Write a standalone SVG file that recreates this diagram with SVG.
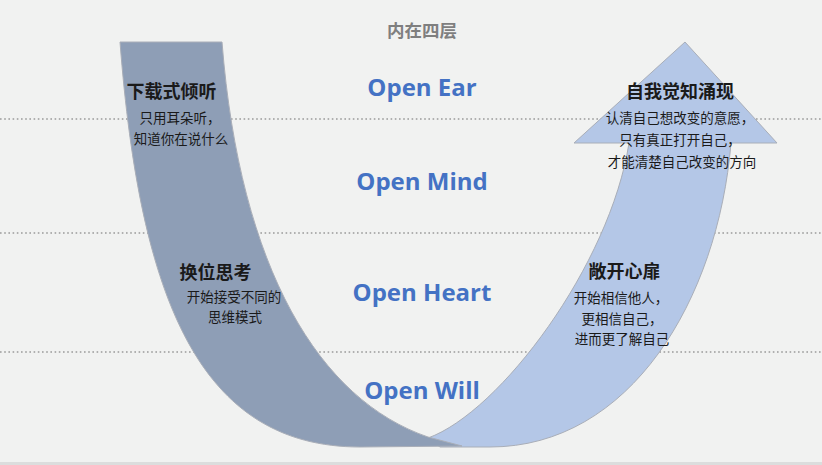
<svg xmlns="http://www.w3.org/2000/svg" width="822" height="465" viewBox="0 0 822 465">
<style>
.bg{fill:#f1f2f1}
.dot{stroke:#9a9a9a;stroke-width:1.6;stroke-dasharray:1.6 2.6;fill:none}
.band{stroke:#a9aeb8;stroke-width:1}
.dark{fill:#8e9eb6}
.light{fill:#b4c7e7}
.open{font-family:"Open Sans","Noto Sans",sans-serif;font-weight:bold;font-size:24px;fill:#4472c4;text-anchor:middle}
.ttl{font-family:"Noto Sans CJK SC",sans-serif;font-weight:bold;font-size:18px;fill:#1a1a1a;text-anchor:middle}
.txt{font-family:"Noto Sans CJK SC",sans-serif;font-size:13.5px;fill:#1a1a1a;text-anchor:middle}
.head{font-family:"Noto Sans CJK SC",sans-serif;font-weight:bold;font-size:17.5px;fill:#7f7f7f;text-anchor:middle}
</style>
<rect class="bg" x="0" y="0" width="822" height="465"/>
<rect x="0" y="462" width="822" height="3" fill="#dcdddd"/>
<g id="layer-lines">
<line class="dot" x1="0" y1="119" x2="822" y2="119"/>
<line class="dot" x1="0" y1="233" x2="822" y2="233"/>
<line class="dot" x1="0" y1="352" x2="822" y2="352"/>
</g>
<g id="connectors">
<path id="up-arrow" class="band light" d="M428,438 C500,412 610,265 629,143 L574,143 L685,42 L777,143 L731,143 C718,300 630,447 490,447 L440,447 Z"/>
<path id="down-band" class="band dark" d="M120,42 L222,42 C240,270 320,400 428,437 L462,446 L360,447 C200,447 140,300 120,42 Z"/>
</g>
<text class="head" x="422" y="37">内在四层</text>
<g id="open-ear"><text class="open" x="422" y="96">Open Ear</text></g>
<g id="open-mind"><text class="open" x="422" y="190">Open Mind</text></g>
<g id="open-heart"><text class="open" x="422" y="301">Open Heart</text></g>
<g id="open-will"><text class="open" x="422" y="399">Open Will</text></g>
<g id="download-listening">
<text class="ttl" x="171.5" y="98">下载式倾听</text>
<text class="txt" x="180" y="123">只用耳朵听，</text>
<text class="txt" x="181" y="144">知道你在说什么</text>
</g>
<g id="perspective">
<text class="ttl" x="215.5" y="279">换位思考</text>
<text class="txt" x="234" y="302">开始接受不同的</text>
<text class="txt" x="235" y="322">思维模式</text>
</g>
<g id="open-heart-node">
<text class="ttl" x="624.5" y="278">敞开心扉</text>
<text class="txt" x="621" y="303">开始相信他人，</text>
<text class="txt" x="622" y="324">更相信自己，</text>
<text class="txt" x="622" y="344">进而更了解自己</text>
</g>
<g id="self-awareness">
<text class="ttl" x="680" y="98">自我觉知涌现</text>
<text class="txt" x="680" y="123">认清自己想改变的意愿，</text>
<text class="txt" x="680" y="145">只有真正打开自己，</text>
<text class="txt" x="682" y="167">才能清楚自己改变的方向</text>
</g>
</svg>
